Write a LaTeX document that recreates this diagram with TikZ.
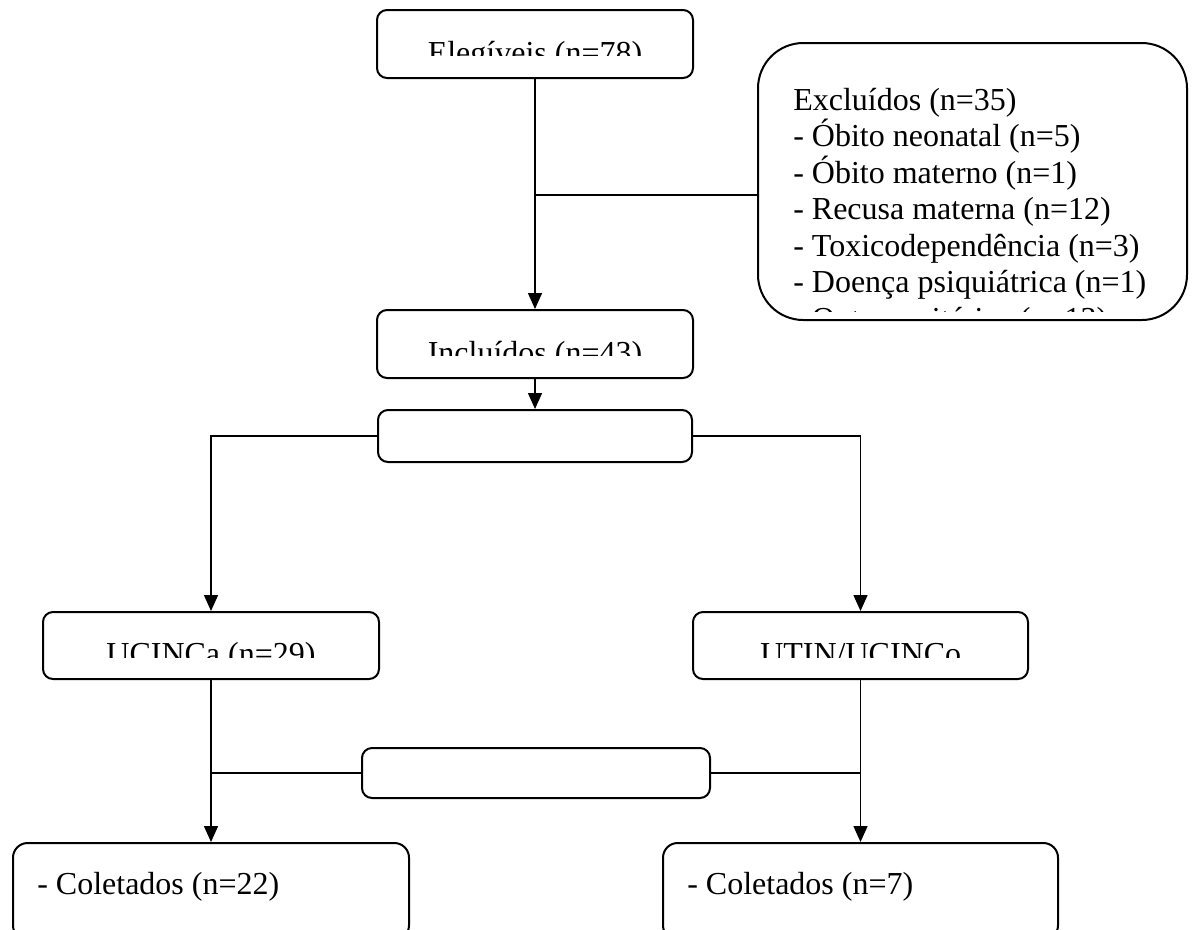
\documentclass[tikz,border=0pt]{standalone}
\usepackage{fontspec}
\setmainfont{Liberation Serif}
\usetikzlibrary{arrows.meta}
\begin{document}
\begin{tikzpicture}[x=0.75pt,y=-0.75pt,
  box/.style={draw,line width=1.5pt,rounded corners=7.5pt,inner sep=0pt,fill=white},
  conn/.style={line width=1.1pt},
  arr/.style={conn,-{Triangle[length=12pt,width=10.5pt]}},
  txt/.style={inner sep=0pt,font=\fontsize{24pt}{27pt}\selectfont}]
\useasboundingbox (0,0) rectangle (1198,929);
\clip (0,0) rectangle (1198,929);
% boxes
\node[box,minimum width=316*0.75pt,minimum height=68*0.75pt] (eleg) at (535,44) {};
\node[box,rounded corners=34pt,minimum width=429*0.75pt,minimum height=277*0.75pt] (excl) at (972.5,181.5) {};
\node[box,minimum width=316*0.75pt,minimum height=68*0.75pt] (incl) at (535,344) {};
\node[box,minimum width=314*0.75pt,minimum height=52*0.75pt] (split1) at (535,436) {};
\node[box,minimum width=336*0.75pt,minimum height=67*0.75pt] (ucia) at (211,645.5) {};
\node[box,minimum width=335*0.75pt,minimum height=67*0.75pt] (utin) at (860.5,645.5) {};
\node[box,minimum width=348*0.75pt,minimum height=50*0.75pt] (split2) at (536,773) {};
\node[box,rounded corners=11pt,minimum width=396*0.75pt,minimum height=97*0.75pt] (colA) at (211,891.5) {};
\node[box,rounded corners=11pt,minimum width=395*0.75pt,minimum height=97*0.75pt] (colB) at (860.5,891.5) {};
% texts (clipped as in the reference)
\begin{scope}
  \clip (380,12) rectangle (690,55);
  \node[txt,anchor=base] (telg) at (535,63) {Elegíveis (n=78)};
\end{scope}
\begin{scope}
  \clip (380,312) rectangle (690,355);
  \node[txt,anchor=base] (tinc) at (535,363) {Incluídos (n=43)};
\end{scope}
\begin{scope}
  \clip (46,614) rectangle (376,657);
  \node[txt,anchor=base] (tuca) at (211,664) {UCINCa (n=29)};
\end{scope}
\begin{scope}
  \clip (696,614) rectangle (1025,657);
  \node[txt,anchor=base west] (tutn) at (760,664) {UTIN/UCINCo};
\end{scope}
\begin{scope}
  \clip (760,45) rectangle (1185,311);
  \foreach \t [count=\i] in {{Excluídos (n=35)},{- Óbito neonatal (n=5)},{- Óbito materno (n=1)},{- Recusa materna (n=12)},{- Toxicodependência (n=3)},{- Doença psiquiátrica (n=1)},{- Outros critérios (n=13)}}
    \node[txt,anchor=base west] (ex\i) at (793,{110+(\i-1)*36.5}) {\t};
\end{scope}
\node[txt,anchor=base west] (tca) at (37,894) {- Coletados (n=22)};
\node[txt,anchor=base west] (tcb) at (687,894) {- Coletados (n=7)};
% connectors
\coordinate (b1) at (535,195);
\draw[arr] (eleg.south) -- (incl.north);
\draw[conn] (b1) -- (b1 -| excl.west);
\draw[arr] (incl.south) -- (split1.north);
\draw[arr] (split1.west) -| (ucia.north);
\draw[arr] (split1.east) -| (utin.north);
\draw[arr] (ucia.south) -- (colA.north);
\draw[arr] (utin.south) -- (colB.north);
\draw[conn] (split2.west) -- (split2.west -| ucia.south);
\draw[conn] (split2.east) -- (split2.east -| utin.south);
\end{tikzpicture}
\end{document}
